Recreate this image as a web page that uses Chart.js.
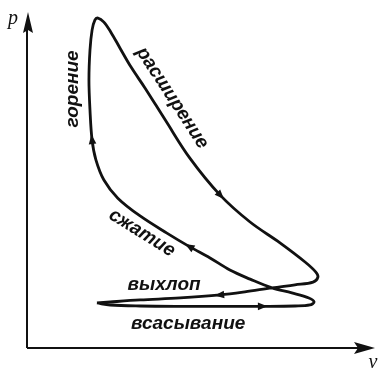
<!DOCTYPE html>
<html>
<head>
<meta charset="utf-8">
<script src="https://cdn.jsdelivr.net/npm/chart.js@4/dist/chart.umd.min.js"></script>
<style>
  html, body { margin: 0; padding: 0; background: #fff; }
  #wrap { width: 381px; height: 372px; }
</style>
</head>
<body>
<div id="wrap"><canvas id="canvas" width="381" height="372"></canvas></div>
<script>
// p-v cycle of a four-stroke engine, one pair of arrays per stroke (v, p in units 0..10)
const intakeV = [2.01, 2.39, 3.25, 4.40, 5.83, 6.75, 7.70, 8.13, 8.25, 8.10, 7.61, 7.04];
const intakeP = [1.34, 1.28, 1.25, 1.24, 1.24, 1.24, 1.25, 1.28, 1.37, 1.49, 1.64, 1.79];

const compressionV = [7.04, 6.41, 5.83, 5.26, 4.68, 4.02, 3.25, 2.61, 2.21, 1.98];
const compressionP = [1.79, 2.05, 2.32, 2.68, 3.01, 3.42, 3.93, 4.46, 5.00, 5.60];

const combustionV = [1.98, 1.87, 1.81, 1.78, 1.81, 1.87, 1.95, 2.04];
const combustionP = [5.60, 6.19, 7.08, 7.98, 8.87, 9.46, 9.76, 9.82];

const expansionV = [2.04, 2.21, 2.41, 2.67, 2.99, 3.39, 3.97, 4.68, 5.55, 6.41, 7.27, 7.99, 8.30, 8.36];
const expansionP = [9.82, 9.70, 9.40, 8.93, 8.36, 7.74, 6.79, 5.65, 4.55, 3.75, 3.13, 2.56, 2.26, 2.11];

const exhaustV = [8.36, 8.22, 7.70, 7.04, 6.26, 5.55, 4.40, 3.25, 2.39, 2.01];
const exhaustP = [2.11, 1.96, 1.88, 1.79, 1.67, 1.58, 1.49, 1.43, 1.37, 1.34];

// strokes in the order the cycle runs, with the point carrying the direction arrow
const strokes = [
    { name: "всасывание", v: intakeV, p: intakeP, arrowAt: 5 },
    { name: "сжатие", v: compressionV, p: compressionP, arrowAt: 4 },
    { name: "горение", v: combustionV, p: combustionP, arrowAt: 1 },
    { name: "расширение", v: expansionV, p: expansionP, arrowAt: 8 },
    { name: "выхлоп", v: exhaustV, p: exhaustP, arrowAt: 5 },
];

// label anchors (data units) and rotation in degrees
const labelText = ["горение", "расширение", "сжатие", "выхлоп", "всасывание"];
const labelV = [1.32, 4.17, 3.30, 3.94, 4.63];
const labelP = [7.71, 7.44, 3.42, 1.87, 0.72];
const labelAngle = [-90, 57, 32, 0, 0];

// join the strokes into one closed loop, dropping the shared end points
const loop = [];
const arrowIndex = [];
strokes.forEach((s, k) => {
    s.v.forEach((v, i) => {
        if (k > 0 && i === 0) return;
        if (i === s.arrowAt) arrowIndex.push(loop.length);
        loop.push({ x: v, y: s.p[i] });
    });
});

const ink = "#111";

const axesPlugin = {
    id: "axes",
    beforeDatasetsDraw(chart) {
        const { ctx, chartArea } = chart;
        const x0 = chartArea.left, y0 = chartArea.bottom;
        ctx.save();
        ctx.strokeStyle = ink;
        ctx.fillStyle = ink;
        ctx.lineWidth = 2;

        // p axis
        ctx.beginPath();
        ctx.moveTo(x0, y0);
        ctx.lineTo(x0, chartArea.top + 12);
        ctx.stroke();
        ctx.beginPath();
        ctx.moveTo(x0 + 1, chartArea.top);
        ctx.lineTo(x0 + 6, chartArea.top + 21);
        ctx.lineTo(x0 + 1, chartArea.top + 18);
        ctx.lineTo(x0 - 4, chartArea.top + 21);
        ctx.closePath();
        ctx.fill();

        // v axis
        ctx.beginPath();
        ctx.moveTo(x0, y0);
        ctx.lineTo(chartArea.right - 12, y0);
        ctx.stroke();
        ctx.beginPath();
        ctx.moveTo(chartArea.right, y0);
        ctx.lineTo(chartArea.right - 21, y0 - 6);
        ctx.lineTo(chartArea.right - 17, y0);
        ctx.lineTo(chartArea.right - 21, y0 + 6);
        ctx.closePath();
        ctx.fill();

        ctx.font = 'italic 20px "Liberation Serif", serif';
        ctx.textAlign = "center";
        ctx.textBaseline = "alphabetic";
        ctx.fillText("p", 13, 24);
        ctx.fillText("v", 373, 368);
        ctx.restore();
    }
};

const markersPlugin = {
    id: "markers",
    afterDatasetsDraw(chart) {
        const { ctx } = chart;
        const pts = chart.getDatasetMeta(0).data;
        const xs = chart.scales.x, ys = chart.scales.y;
        ctx.save();
        ctx.fillStyle = ink;

        // direction arrows along the loop
        arrowIndex.forEach(i => {
            const a = pts[i - 1], b = pts[i], c = pts[i + 1];
            const ang = Math.atan2(c.y - a.y, c.x - a.x);
            ctx.save();
            ctx.translate(b.x, b.y);
            ctx.rotate(ang);
            ctx.beginPath();
            ctx.moveTo(5.5, 0);
            ctx.lineTo(-4, -3.8);
            ctx.lineTo(-4, 3.8);
            ctx.closePath();
            ctx.fill();
            ctx.restore();
        });

        // stroke names
        ctx.font = 'italic bold 19px "Liberation Sans", Arial, sans-serif';
        ctx.textAlign = "center";
        ctx.textBaseline = "alphabetic";
        labelText.forEach((t, i) => {
            ctx.save();
            ctx.translate(xs.getPixelForValue(labelV[i]), ys.getPixelForValue(labelP[i]));
            ctx.rotate(labelAngle[i] * Math.PI / 180);
            ctx.fillText(t, 0, 5);
            ctx.restore();
        });
        ctx.restore();
    }
};

new Chart(document.getElementById("canvas"), {
    type: "scatter",
    data: {
        datasets: [{
            data: loop,
            showLine: true,
            borderColor: ink,
            borderWidth: 2.8,
            pointRadius: 0,
            tension: 0.35,
            fill: false,
        }]
    },
    options: {
        responsive: false,
        animation: false,
        layout: { padding: { left: 27, top: 12, right: 6, bottom: 24 } },
        scales: {
            x: { type: "linear", min: 0, max: 10, display: false },
            y: { type: "linear", min: 0, max: 10, display: false },
        },
        plugins: {
            legend: { display: false },
            tooltip: { enabled: false },
        }
    },
    plugins: [axesPlugin, markersPlugin]
});
</script>
</body>
</html>
